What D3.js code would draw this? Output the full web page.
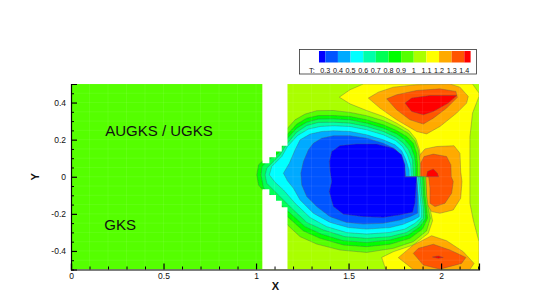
<!DOCTYPE html>
<html>
<head>
<meta charset="utf-8">
<script src="https://cdn.jsdelivr.net/npm/d3@7"></script>
<style>
  html, body { margin: 0; padding: 0; background: #fff; }
  svg { display: block; }
  text { font-family: "Liberation Sans", Arial, sans-serif; fill: #111; }
</style>
</head>
<body>
<svg width="545" height="304"></svg>
<script>
// legend
var legendLabels = ["0.3", "0.4", "0.5", "0.6", "0.7", "0.8", "0.9", "1", "1.1", "1.2", "1.3", "1.4"];
var legendEdges = [0.25, 0.3, 0.4, 0.5, 0.6, 0.7, 0.8, 0.9, 1, 1.1, 1.2, 1.3, 1.4, 1.45];
var legendColors = ["#0000ff", "#0055ff", "#00aaff", "#00ffff", "#00ffaa", "#00ff55", "#00ff00",
                    "#55ff00", "#aaff00", "#ffff00", "#ffaa00", "#ff5500", "#ff0000"];

// axis ticks
var xTicks = [0, 0.5, 1, 1.5, 2];
var xMinorTicks = [0.1, 0.2, 0.3, 0.4, 0.6, 0.7, 0.8, 0.9, 1.1, 1.2, 1.3, 1.4, 1.6, 1.7, 1.8, 1.9, 2.1, 2.2];
var yTicks = [-0.4, -0.2, 0, 0.2, 0.4];
var yMinorTicks = [-0.45, -0.35, -0.3, -0.25, -0.15, -0.1, -0.05, 0.05, 0.1, 0.15, 0.25, 0.3, 0.35, 0.45, 0.5, -0.5];

// the white gap between the two zones, with its stepped edge
var gapTop = [[1.035,0.5],[1.17,0.5],[1.17,0.167],[1.139,0.167],[1.139,0.136],[1.108,0.136],[1.108,0.105],[1.072,0.105],[1.072,0.073],[1.035,0.073]];
var gapBottom = [[1.035,-0.5],[1.17,-0.5],[1.17,-0.165],[1.139,-0.165],[1.139,-0.129],[1.108,-0.129],[1.108,-0.098],[1.072,-0.098],[1.072,-0.067],[1.035,-0.067]];

// contours, [x, y], cold blob
var tBelow100 = [[1.049,0.01],[1.049,0.082],[1.094,0.145],[1.17,0.262],[1.211,0.307],[1.265,0.338],[1.328,0.356],[1.418,0.357],[1.508,0.347],[1.598,0.329],[1.688,0.302],[1.76,0.271],[1.823,0.235],[1.859,0.194],[1.877,0.145],[1.886,0.082],[1.886,0],[1.917,0],[1.922,-0.098],[1.931,-0.17],[1.942,-0.224],[1.922,-0.292],[1.85,-0.35],[1.742,-0.386],[1.598,-0.408],[1.454,-0.395],[1.328,-0.363],[1.238,-0.323],[1.17,-0.26],[1.094,-0.161],[1.049,-0.071]];
var tBelow90 = [[1.004,0.01],[1.013,0.064],[1.036,0.086],[1.094,0.127],[1.17,0.23],[1.22,0.284],[1.274,0.316],[1.337,0.33],[1.418,0.33],[1.508,0.325],[1.598,0.307],[1.688,0.28],[1.76,0.249],[1.814,0.217],[1.85,0.181],[1.868,0.127],[1.873,0.064],[1.873,0],[1.908,0],[1.913,-0.098],[1.922,-0.17],[1.927,-0.224],[1.9,-0.282],[1.832,-0.332],[1.724,-0.364],[1.598,-0.377],[1.472,-0.368],[1.346,-0.332],[1.256,-0.292],[1.17,-0.215],[1.094,-0.143],[1.036,-0.071],[1.013,-0.044]];
var tBelow80 = [[1.027,0.01],[1.033,0.055],[1.067,0.091],[1.121,0.127],[1.17,0.208],[1.22,0.262],[1.274,0.294],[1.337,0.311],[1.418,0.312],[1.508,0.307],[1.598,0.289],[1.688,0.262],[1.76,0.231],[1.805,0.199],[1.836,0.163],[1.857,0.109],[1.863,0.055],[1.863,0],[1.899,0],[1.904,-0.098],[1.913,-0.17],[1.917,-0.224],[1.886,-0.269],[1.823,-0.314],[1.724,-0.341],[1.598,-0.354],[1.472,-0.345],[1.355,-0.31],[1.265,-0.269],[1.175,-0.188],[1.103,-0.125],[1.04,-0.058]];
var tBelow70 = [[1.049,0.01],[1.058,0.046],[1.094,0.082],[1.13,0.118],[1.17,0.181],[1.22,0.24],[1.274,0.276],[1.337,0.293],[1.418,0.294],[1.508,0.289],[1.598,0.271],[1.688,0.244],[1.755,0.213],[1.796,0.181],[1.825,0.145],[1.846,0.091],[1.85,0],[1.886,0],[1.895,-0.098],[1.904,-0.17],[1.904,-0.224],[1.872,-0.264],[1.814,-0.3],[1.724,-0.323],[1.598,-0.332],[1.481,-0.323],[1.364,-0.287],[1.274,-0.246],[1.193,-0.17],[1.121,-0.098],[1.058,-0.035]];
var tBelow60 = [[1.072,0.01],[1.085,0.055],[1.139,0.109],[1.17,0.163],[1.224,0.222],[1.283,0.257],[1.346,0.271],[1.418,0.275],[1.508,0.271],[1.598,0.253],[1.688,0.226],[1.755,0.195],[1.792,0.163],[1.818,0.118],[1.836,0.064],[1.839,0],[1.877,0],[1.886,-0.098],[1.893,-0.17],[1.893,-0.22],[1.859,-0.251],[1.805,-0.282],[1.724,-0.3],[1.598,-0.309],[1.49,-0.301],[1.382,-0.269],[1.292,-0.22],[1.211,-0.143],[1.148,-0.071],[1.103,-0.03]];
var tBelow50 = [[1.148,0.019],[1.18,0.073],[1.211,0.145],[1.238,0.199],[1.292,0.23],[1.355,0.244],[1.418,0.248],[1.508,0.244],[1.598,0.226],[1.688,0.199],[1.751,0.172],[1.787,0.14],[1.81,0.091],[1.827,0.037],[1.828,0],[1.868,0],[1.877,-0.098],[1.882,-0.17],[1.882,-0.215],[1.85,-0.233],[1.796,-0.256],[1.724,-0.274],[1.598,-0.282],[1.499,-0.274],[1.4,-0.246],[1.31,-0.197],[1.238,-0.125],[1.202,-0.062],[1.17,-0.022]];
var tBelow40 = [[1.242,0.019],[1.256,0.082],[1.283,0.145],[1.31,0.181],[1.355,0.208],[1.418,0.221],[1.508,0.221],[1.598,0.208],[1.688,0.181],[1.751,0.15],[1.782,0.118],[1.8,0.073],[1.81,0],[1.868,0],[1.873,-0.098],[1.873,-0.197],[1.832,-0.215],[1.778,-0.233],[1.688,-0.251],[1.58,-0.255],[1.49,-0.247],[1.4,-0.215],[1.328,-0.161],[1.274,-0.107],[1.247,-0.044]];
var tBelow30 = [[1.4,0.028],[1.396,0.082],[1.409,0.136],[1.454,0.168],[1.544,0.177],[1.652,0.176],[1.742,0.154],[1.787,0.118],[1.805,0.064],[1.805,0],[1.868,0],[1.863,-0.08],[1.859,-0.143],[1.846,-0.192],[1.778,-0.206],[1.688,-0.219],[1.58,-0.215],[1.472,-0.202],[1.418,-0.161],[1.395,-0.08],[1.409,-0.026]];

// hot spots
var tAbove110 = [[1.45,0.429],[1.508,0.469],[1.58,0.5],[2.17,0.5],[2.205,0.451],[2.205,0.433],[2.17,0.343],[2.156,0.217],[2.156,-0.143],[2.174,-0.233],[2.205,-0.35],[2.205,-0.5],[1.701,-0.5],[1.679,-0.435],[1.742,-0.404],[1.85,-0.368],[1.931,-0.305],[1.954,-0.237],[1.94,-0.17],[1.931,-0.098],[1.926,0],[1.895,0],[1.893,0.082],[1.882,0.15],[1.864,0.203],[1.828,0.248],[1.76,0.289],[1.688,0.325],[1.598,0.357],[1.508,0.393]];
var tAbove120Top = [[1.607,0.424],[1.661,0.456],[1.742,0.483],[1.868,0.496],[2.048,0.5],[2.102,0.483],[2.147,0.433],[2.138,0.397],[2.084,0.343],[1.994,0.271],[1.922,0.231],[1.868,0.244],[1.76,0.307],[1.67,0.37]];
var tAbove120Mid = [[1.877,0.064],[1.886,0.118],[1.913,0.15],[1.976,0.163],[2.07,0.167],[2.102,0.127],[2.106,0.028],[2.113,-0.026],[2.106,-0.116],[2.066,-0.179],[1.994,-0.197],[1.949,-0.188],[1.922,-0.143],[1.917,0],[1.877,0]];
var tAbove120Low = [[1.769,-0.436],[1.85,-0.368],[1.949,-0.318],[2.03,-0.345],[2.12,-0.404],[2.178,-0.467],[2.156,-0.5],[1.85,-0.5]];
var tAbove130Top = [[1.706,0.42],[1.76,0.442],[1.868,0.465],[1.994,0.474],[2.08,0.46],[2.088,0.428],[2.03,0.37],[1.958,0.316],[1.904,0.284],[1.832,0.307],[1.76,0.361]];
var tAbove130Mid = [[1.891,0],[1.89,0.073],[1.908,0.109],[1.958,0.122],[2.03,0.109],[2.053,0.064],[2.055,0],[2.066,-0.026],[2.057,-0.089],[2.021,-0.143],[1.967,-0.161],[1.94,-0.143],[1.94,-0.062],[1.933,0]];
var tAbove130Low = [[1.85,-0.413],[1.877,-0.386],[1.958,-0.364],[2.048,-0.395],[2.134,-0.435],[2.111,-0.467],[1.994,-0.498],[1.904,-0.476]];
var tAbove140Top = [[1.805,0.397],[1.841,0.424],[1.94,0.438],[2.084,0.438],[2.039,0.397],[1.958,0.352],[1.904,0.334],[1.841,0.352]];
var tAbove140Mid = [[1.922,0],[1.926,0.028],[1.958,0.042],[1.98,0.019],[1.987,0]];
var tAbove140Low = [[1.953,-0.433],[1.985,-0.427],[2.012,-0.435],[1.985,-0.44]];

// Painted in this order, each one on top of the last
var bands = [
    [tAbove110, "#ffff00"],
    [tAbove120Top, "#ffaa00"], [tAbove120Mid, "#ffaa00"], [tAbove120Low, "#ffaa00"],
    [tAbove130Top, "#ff5500"], [tAbove130Mid, "#ff5500"], [tAbove130Low, "#ff5500"],
    [tAbove140Top, "#ff0000"], [tAbove140Mid, "#ff0000"], [tAbove140Low, "#ff0000"],
    [tBelow100, "#55ff00"], [tBelow90, "#00ff00"], [tBelow80, "#00ff55"], [tBelow70, "#00ffaa"],
    [tBelow60, "#00ffff"], [tBelow50, "#00aaff"], [tBelow40, "#0055ff"], [tBelow30, "#0000ff"]
];

var svg = d3.select("svg");

var x = d3.scaleLinear().domain([0, 2.205]).range([71, 479]);
var y = d3.scaleLinear().domain([-0.5, 0.5]).range([269.5, 84]);

var polygon = d3.line().x(function(d) { return x(d[0]); }).y(function(d) { return y(d[1]); });

svg.append("clipPath").attr("id", "plot-clip").append("rect")
    .attr("x", x(0)).attr("y", y(0.5))
    .attr("width", x(2.205) - x(0)).attr("height", y(-0.5) - y(0.5));

// The reference is a shrunk raster, a touch of blur softens the band edges the same way
svg.append("filter").attr("id", "soft").append("feGaussianBlur").attr("stdDeviation", 0.4);

var plot = svg.append("g").attr("clip-path", "url(#plot-clip)");

// The two zones
plot.append("rect")
    .attr("x", x(0)).attr("y", y(0.5))
    .attr("width", x(1.035) - x(0)).attr("height", y(-0.5) - y(0.5))
    .attr("fill", "#55ff00");
plot.append("rect")
    .attr("x", x(1.035)).attr("y", y(0.5))
    .attr("width", x(2.205) - x(1.035)).attr("height", y(-0.5) - y(0.5))
    .attr("fill", "#aaff00");

// Contour bands
plot.append("g").attr("filter", "url(#soft)")
    .selectAll("path.band")
    .data(bands)
    .enter().append("path")
    .attr("class", "band")
    .attr("d", function(d) { return polygon(d[0]) + "Z"; })
    .attr("fill", function(d) { return d[1]; })
    .attr("stroke", "#555")
    .attr("stroke-opacity", 0.7)
    .attr("stroke-width", 0.5);

// Faint mesh lines
plot.selectAll("line.meshx")
    .data(xTicks.concat(xMinorTicks))
    .enter().append("line")
    .attr("class", "meshx")
    .attr("x1", function(d) { return x(d); }).attr("x2", function(d) { return x(d); })
    .attr("y1", y(-0.5)).attr("y2", y(0.5))
    .attr("stroke", "#fff").attr("stroke-opacity", 0.07);
plot.selectAll("line.meshy")
    .data(yTicks.concat(yMinorTicks))
    .enter().append("line")
    .attr("class", "meshy")
    .attr("x1", x(0)).attr("x2", x(2.205))
    .attr("y1", function(d) { return y(d); }).attr("y2", function(d) { return y(d); })
    .attr("stroke", "#fff").attr("stroke-opacity", 0.07);

// White gap goes over everything
plot.selectAll("path.gap")
    .data([gapTop, gapBottom])
    .enter().append("path")
    .attr("class", "gap")
    .attr("d", function(d) { return polygon(d) + "Z"; })
    .attr("fill", "#fff");

// Axes, ticks point into the plot
var xAxis = svg.append("g")
    .attr("transform", "translate(0," + y(-0.5) + ")")
    .call(d3.axisBottom(x).tickValues(xTicks).tickSize(-6).tickPadding(3)
        .tickFormat(function(d) { return String(d); }));
var yAxis = svg.append("g")
    .attr("transform", "translate(" + x(0) + ",0)")
    .call(d3.axisLeft(y).tickValues(yTicks).tickSize(-6).tickPadding(5)
        .tickFormat(function(d) { return String(d); }));

svg.append("g")
    .attr("transform", "translate(0," + y(-0.5) + ")")
    .call(d3.axisBottom(x).tickValues(xMinorTicks).tickSize(-3).tickFormat(""))
    .call(function(g) { g.select(".domain").remove(); });
svg.append("g")
    .attr("transform", "translate(" + x(0) + ",0)")
    .call(d3.axisLeft(y).tickValues(yMinorTicks).tickSize(-3).tickFormat(""))
    .call(function(g) { g.select(".domain").remove(); });

[xAxis, yAxis].forEach(function(g) {
    g.select(".domain").attr("stroke-width", 1.2).attr("stroke", "#000");
    g.selectAll(".tick line").attr("stroke", "#000").attr("stroke-width", 1.2);
    g.selectAll("text").attr("font-size", 8.5).attr("font-family", "Liberation Sans").attr("fill", "#333");
});

// Axis titles
svg.append("text").attr("x", x(1.105)).attr("y", 289.5)
    .attr("text-anchor", "middle").attr("font-size", 11).attr("font-weight", "bold").text("X");
svg.append("text").attr("transform", "translate(39," + y(0) + ") rotate(-90)")
    .attr("text-anchor", "middle").attr("font-size", 11).attr("font-weight", "bold").text("Y");

// Zone labels
svg.append("text").attr("x", x(0.185)).attr("y", y(0.22)).attr("font-size", 15).attr("fill", "#000").text("AUGKS / UGKS");
svg.append("text").attr("x", x(0.18)).attr("y", y(-0.285)).attr("font-size", 15).attr("fill", "#000").text("GKS");

// Legend
var legendX = d3.scaleLinear().domain([0.3, 1.4]).range([325.3, 464.3]);

svg.append("rect")
    .attr("x", 299.5).attr("y", 49.5).attr("width", 177).attr("height", 24.5)
    .attr("fill", "#fff").attr("stroke", "#333").attr("stroke-width", 0.8);

svg.selectAll("rect.swatch")
    .data(legendColors)
    .enter().append("rect")
    .attr("class", "swatch")
    .attr("x", function(d, i) { return legendX(legendEdges[i]); })
    .attr("y", 51)
    .attr("width", function(d, i) { return legendX(legendEdges[i + 1]) - legendX(legendEdges[i]); })
    .attr("height", 11.5)
    .attr("fill", function(d) { return d; });

svg.selectAll("text.legend")
    .data(legendLabels)
    .enter().append("text")
    .attr("class", "legend")
    .attr("x", function(d) { return legendX(+d); })
    .attr("y", 72.5)
    .attr("text-anchor", "middle")
    .attr("font-size", 7.2)
    .attr("fill", "#333")
    .text(function(d) { return d; });

svg.append("text").attr("x", 309).attr("y", 72.5).attr("font-size", 7.5).attr("fill", "#333").text("T:");
</script>
</body>
</html>
